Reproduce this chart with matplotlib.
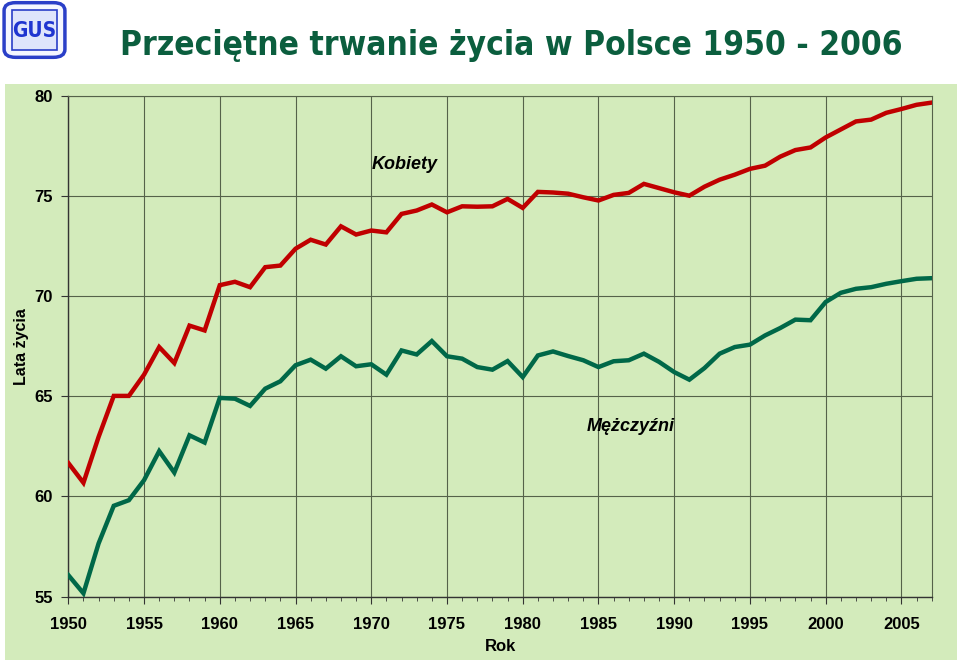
import matplotlib
matplotlib.use("Agg")
import matplotlib.pyplot as plt
from matplotlib.patches import Rectangle, FancyBboxPatch
from matplotlib.ticker import MultipleLocator
from matplotlib import font_manager

plt.rcParams['font.family'] = ['Liberation Sans', 'DejaVu Sans']

years = list(range(1950, 2008))

kobiety = [61.67, 60.68, 62.97, 65.02, 65.02, 66.08, 67.46, 66.66, 68.53, 68.29,
           70.55, 70.72, 70.45, 71.45, 71.53, 72.37, 72.82, 72.58, 73.49, 73.08,
           73.28, 73.19, 74.11, 74.28, 74.58, 74.19, 74.49, 74.47, 74.49, 74.86,
           74.41, 75.21, 75.18, 75.12, 74.94, 74.78, 75.06, 75.16, 75.61, 75.40,
           75.19, 75.02, 75.47, 75.82, 76.07, 76.36, 76.52, 76.97, 77.30, 77.43,
           77.93, 78.33, 78.73, 78.82, 79.16, 79.35, 79.56, 79.67]

mezczyzni = [56.07, 55.16, 57.65, 59.53, 59.81, 60.81, 62.26, 61.19, 63.05, 62.69,
             64.92, 64.88, 64.52, 65.38, 65.75, 66.55, 66.83, 66.38, 67.00, 66.50,
             66.60, 66.08, 67.29, 67.09, 67.76, 67.00, 66.88, 66.46, 66.33, 66.76,
             65.96, 67.04, 67.24, 67.01, 66.80, 66.46, 66.75, 66.80, 67.13, 66.72,
             66.21, 65.83, 66.41, 67.13, 67.46, 67.58, 68.04, 68.41, 68.83, 68.80,
             69.71, 70.17, 70.37, 70.45, 70.62, 70.75, 70.87, 70.90]

panel = '#d3ebbb'
grid_col = '#55624a'

# use a condensed bold face for the title if one is installed
title_font = {'family': ['Liberation Sans'], 'size': 26}
logo_font = {'family': ['Liberation Sans'], 'size': 13}
for fam in ['Liberation Sans Narrow', 'DejaVu Sans']:
    fp = font_manager.FontProperties(family=fam, weight='bold', stretch='condensed')
    try:
        path = font_manager.findfont(fp, fallback_to_default=False)
    except Exception:
        path = ''
    if 'Narrow' in path or 'Condensed' in path:
        title_font = {'family': [fam], 'stretch': 'condensed',
                      'size': 30 if 'Narrow' in path else 24}
        logo_font = {'family': [fam], 'stretch': 'condensed', 'size': 15}
        break

fig = plt.figure(figsize=(9.6, 6.62), dpi=100)

# green chart panel behind the plot
fig.patches.append(Rectangle((5 / 960, 2 / 662), 952 / 960, 576 / 662,
                             transform=fig.transFigure, facecolor=panel,
                             edgecolor='none', zorder=-10))

# GUS logo
fig.patches.append(FancyBboxPatch((6 / 960, 1 - 56 / 662), 57 / 960, 52 / 662,
                                  boxstyle="round,pad=0.002,rounding_size=0.012",
                                  transform=fig.transFigure, facecolor='#f4f6ff',
                                  edgecolor='#2a3fc8', linewidth=2.5))
fig.patches.append(Rectangle((12 / 960, 1 - 50 / 662), 45 / 960, 40 / 662,
                             transform=fig.transFigure, facecolor='#dfe5fb',
                             edgecolor='#2a3fc8', linewidth=1.2))
fig.text(34.5 / 960, 1 - 31 / 662, 'GUS', color='#1f35d0',
         fontweight='bold', ha='center', va='center', **logo_font)

fig.text(511 / 960, 1 - 46 / 662, 'Przeciętne trwanie życia w Polsce 1950 - 2006',
         color='#0b5e3e', fontweight='bold', ha='center', va='center', **title_font)

ax = fig.add_axes([68.3 / 960, 1 - 596.5 / 662, 863.4 / 960, 500.5 / 662])
ax.set_facecolor(panel)

ax.plot(years, kobiety, color='#c00000', linewidth=3.2, solid_joinstyle='miter', zorder=3)
ax.plot(years, mezczyzni, color='#006848', linewidth=3.2, solid_joinstyle='miter', zorder=3)

ax.set_xlim(1950, 2007)
ax.set_ylim(55, 80)
ax.xaxis.set_major_locator(MultipleLocator(5))
ax.xaxis.set_minor_locator(MultipleLocator(1))
ax.yaxis.set_major_locator(MultipleLocator(5))
ax.grid(True, which='major', color=grid_col, linewidth=0.8)
ax.set_axisbelow(True)

for s in ['top', 'right']:
    ax.spines[s].set_color(grid_col)
    ax.spines[s].set_linewidth(0.8)
for s in ['left', 'bottom']:
    ax.spines[s].set_color('#333333')
    ax.spines[s].set_linewidth(1.0)

ax.tick_params(axis='both', which='major', labelsize=12, length=5, color='#333333')
ax.tick_params(axis='x', which='major', pad=10)
ax.tick_params(axis='y', which='major', pad=6)
ax.tick_params(axis='x', which='minor', length=3, color='#333333')
for lab in ax.get_xticklabels() + ax.get_yticklabels():
    lab.set_fontweight('bold')

ax.set_xlabel('Rok', fontsize=12, fontweight='bold', labelpad=5)
ax.set_ylabel('Lata życia', fontsize=11.5, fontweight='bold', labelpad=4)

ax.text(1972.2, 76.6, 'Kobiety', fontsize=13, fontweight='bold', style='italic',
        ha='center', va='center')
ax.text(1987.1, 63.5, 'Mężczyźni', fontsize=13, fontweight='bold', style='italic',
        ha='center', va='center')

fig.savefig('out.png', dpi=100)
